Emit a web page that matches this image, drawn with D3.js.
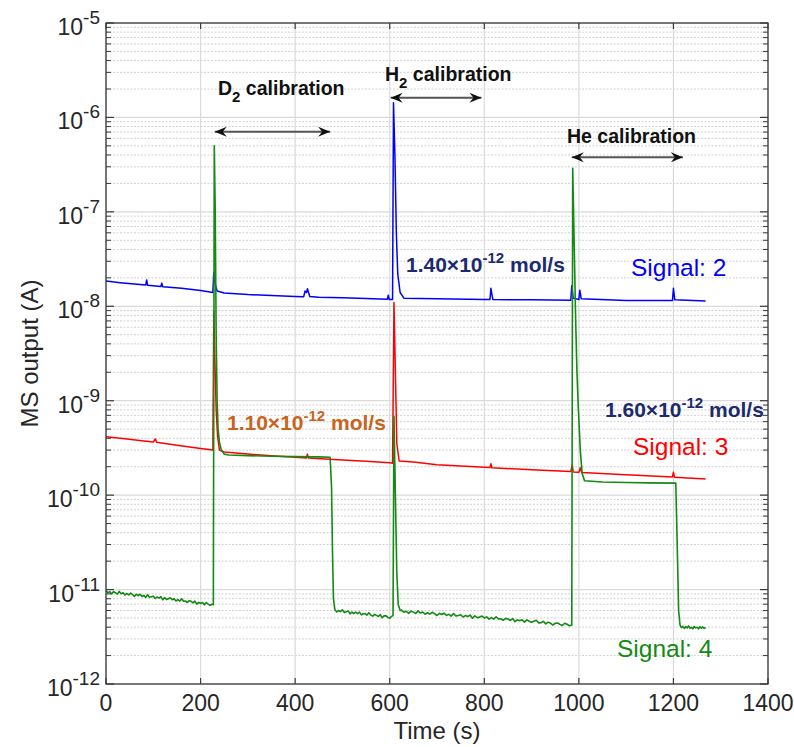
<!DOCTYPE html>
<html>
<head>
<meta charset="utf-8">
<script src="https://cdn.jsdelivr.net/npm/d3@7"></script>
<style>
  body { margin: 0; background: #fff; }
  text { font-family: "Liberation Sans", Arial, Helvetica, sans-serif; }
</style>
</head>
<body>
<svg id="chart" width="794" height="747"></svg>
<script>
/* data (time in s, current in A) */
var xTicks = [0, 200, 400, 600, 800, 1000, 1200, 1400];
var yDecades = [-12, -11, -10, -9, -8, -7, -6, -5];

// Signal 2 (blue), values x1e-8
var sig2 = [[0,1.85],[30,1.78],[60,1.72],[84,1.68],[86,1.90],[88,1.67],[116,1.62],[118,1.76],[120,1.61],
  [160,1.55],[200,1.47],[226,1.40],[228,2.3],[231,1.7],[235,1.45],[250,1.38],[300,1.33],[350,1.30],
  [400,1.27],[418,1.26],[421,1.45],[424,1.40],[426,1.53],[428,1.42],[431,1.27],[450,1.25],[500,1.23],
  [550,1.21],[595,1.19],[597,1.31],[599,1.18],[606,1.18],[608,143],[611,40],[614,6],[617,2.2],[622,1.4],
  [630,1.22],[700,1.20],[800,1.18],[812,1.18],[814,1.55],[816,1.35],[818,1.18],[900,1.17],[983,1.16],
  [985,1.65],[988,1.22],[1000,1.18],[1002,1.48],[1005,1.2],[1100,1.15],[1198,1.15],[1200,1.55],
  [1203,1.17],[1268,1.14]];

// Signal 3 (red), values x1e-10
var sig3 = [[0,4.15],[40,3.95],[80,3.75],[100,3.65],[104,3.95],[107,3.63],[150,3.38],[200,3.12],[226,3.0],
  [228,90],[230,30],[233,8],[236,4.2],[240,3.0],[250,2.86],[300,2.72],[350,2.62],[400,2.52],[424,2.48],
  [426,2.72],[428,2.47],[500,2.36],[550,2.28],[600,2.2],[606,2.18],[609,110],[612,20],[615,3.5],[620,2.3],
  [650,2.25],[700,2.1],[750,2.03],[812,1.96],[814,2.15],[816,1.95],[900,1.86],[983,1.78],[986,2.1],
  [988,1.76],[1000,1.75],[1003,1.95],[1006,1.74],[1100,1.64],[1198,1.56],[1200,1.75],[1202,1.55],[1268,1.48]];

// Signal 4 (green), values x1e-12
var sig4 = [[0,9.79],[4,9.26],[8,9.50],[12,8.99],[16,9.51],[20,9.27],[24,8.95],[28,9.55],[32,9.04],[36,9.27],
  [40,8.77],[44,9.08],[48,8.77],[52,9.17],[56,8.86],[60,8.46],[64,8.94],[68,8.63],[72,8.93],[76,8.46],
  [80,8.67],[84,8.27],[88,8.83],[92,8.27],[96,8.40],[100,8.52],[104,8.05],[108,8.34],[112,8.13],[116,8.42],
  [120,7.80],[124,8.23],[128,7.87],[132,7.98],[136,8.18],[140,7.81],[144,8.00],[148,7.57],[152,7.83],
  [156,7.56],[160,7.97],[164,7.53],[168,7.57],[172,7.29],[176,7.63],[180,7.50],[184,7.23],[188,7.56],
  [192,7.00],[196,7.32],[200,7.13],[204,7.29],[208,6.90],[212,7.27],[216,7.02],[220,6.83],[224,6.99],[227,6.9],
  // D2 peak + plateau
  [229,500000],[231,100000],[233,5000],[235,1000],[237,500],[240,360],[244,300],[250,272],[260,266],
  [300,262],[350,258],[400,256],[450,254],[474,252],[477,120],[479,25],[481,8],
  [484,6.12],[488,5.79],[492,6.00],[496,5.84],[500,6.11],[504,5.73],[508,5.81],[512,5.95],[516,5.52],
  [520,5.78],[524,5.58],[528,5.77],[532,5.57],[536,5.77],[540,5.40],[544,5.54],[548,5.57],[552,5.37],
  [556,5.67],[560,5.37],[564,5.23],[568,5.47],[572,5.33],[576,5.19],[580,5.43],[584,5.03],[588,5.26],
  [592,5.28],[596,5.10],[600,4.97],[604,5.20],
  // H2 peak
  [607,5.3],[609,680],[612,100],[615,15],[618,7],[622,6.0],
  [625,6.06],[630,5.75],[635,5.90],[640,5.59],[645,5.91],[650,5.77],[655,5.58],[660,5.95],[665,5.64],
  [670,5.79],[675,5.48],[680,5.69],[685,5.50],[690,5.75],[695,5.56],[700,5.31],[705,5.62],[710,5.44],
  [715,5.62],[720,5.33],[725,5.47],[730,5.23],[735,5.58],[740,5.24],[745,5.32],[750,5.41],[755,5.12],
  [760,5.30],[765,5.18],[770,5.37],[775,4.97],[780,5.26],[785,5.04],[790,5.11],[795,5.24],[800,5.01],
  [805,5.14],[810,4.87],[815,5.04],[820,4.87],[825,5.15],[830,4.88],[835,4.90],[840,4.73],[845,4.95],
  [850,4.88],[855,4.71],[860,4.93],[865,4.57],[870,4.79],[875,4.67],[880,4.78],[885,4.53],[890,4.78],
  [895,4.62],[900,4.51],[905,4.62],[910,4.73],[915,4.44],[920,4.46],[925,4.61],[930,4.33],[935,4.52],
  [940,4.41],[945,4.21],[950,4.40],[955,4.43],[960,4.28],[965,4.16],[970,4.40],[975,4.29],[980,4.14],[985,4.20],
  // He peak + plateau
  [987,290000],[990,50000],[993,8000],[996,2000],[999,800],[1003,300],[1007,170],[1012,142],
  [1050,138],[1100,136],[1150,135],[1205,134],[1208,30],[1211,6],
  [1214,4.2],[1217,3.95],[1220,4.08],[1223,3.88],[1226,4.05],[1229,3.92],[1232,4.12],[1235,3.90],
  [1238,3.98],[1241,3.85],[1244,4.06],[1247,3.93],[1250,3.99],[1253,3.84],[1256,4.04],[1259,3.90],
  [1262,4.02],[1265,3.88],[1268,3.96]];

// calibration arrows: [t start, t end, level in A]
var arrows = [[230, 474, 7.06e-7], [602, 794, 1.62e-6], [985, 1220, 3.78e-7]];
var calibNames = ["D", "H", "He"];
var calibSubs = ["2", "2", ""];
var calibPos = [[218, 95], [385, 81], [567, 143]];

var rateLabels = ["1.10", "1.40", "1.60"];
var rateColors = ["#c8641e", "#1c2b6e", "#1c2b6e"];
var ratePos = [[227, 430], [406, 272], [605, 417]];

var sigNames = ["Signal: 2", "Signal: 3", "Signal: 4"];
var sigColors = ["#0000ff", "#ff0000", "#138a13"];
var sigPos = [[631, 276], [633, 455], [617, 657]];

/* layout */
var margin = {left: 106, right: 26, top: 23, bottom: 63};
var W = 794, H = 747;

var svg = d3.select('#chart');

var xScale = d3.scaleLinear().domain([0, 1400]).range([margin.left, W - margin.right]);
var yScale = d3.scaleLog().domain([1e-12, 1e-5]).range([H - margin.bottom, margin.top]);

var x0 = xScale(0), x1 = xScale(1400), yb = yScale(1e-12), yt = yScale(1e-5);

// minor values 2..9 x each decade
var minors = [];
yDecades.slice(0, -1).forEach(function(e) {
  for (var k = 2; k <= 9; k++) minors.push(k * Math.pow(10, e));
});

var grid = svg.append('g');
grid.selectAll('.minor').data(minors).enter().append('line')
  .attr('x1', x0).attr('x2', x1)
  .attr('y1', d => yScale(d)).attr('y2', d => yScale(d))
  .attr('stroke', '#c4c4c4').attr('stroke-width', 0.8).attr('stroke-dasharray', '2,1.5');
grid.selectAll('.hmaj').data(yDecades).enter().append('line')
  .attr('x1', x0).attr('x2', x1)
  .attr('y1', d => yScale(Math.pow(10, d))).attr('y2', d => yScale(Math.pow(10, d)))
  .attr('stroke', '#dadada').attr('stroke-width', 1.2);
grid.selectAll('.vmaj').data(xTicks).enter().append('line')
  .attr('x1', d => xScale(d)).attr('x2', d => xScale(d))
  .attr('y1', yt).attr('y2', yb)
  .attr('stroke', '#dadada').attr('stroke-width', 1.2);

/* series */
var line = d3.line().x(d => xScale(d[0])).y(d => yScale(d[1]));
function drawSig(data, unit, color, sw) {
  svg.append('path')
    .datum(data.map(d => [d[0], d[1] * unit]))
    .attr('fill', 'none').attr('stroke', color).attr('stroke-width', sw)
    .attr('stroke-linejoin', 'round')
    .attr('d', line);
}
drawSig(sig2, 1e-8, '#0000ff', 1.5);
drawSig(sig3, 1e-10, '#ff0000', 1.5);
drawSig(sig4, 1e-12, '#138a13', 1.6);

/* axes box + ticks */
var axis = svg.append('g').attr('stroke', '#3a3a3a');
axis.append('rect').attr('x', x0).attr('y', yt).attr('width', x1 - x0).attr('height', yb - yt)
  .attr('fill', 'none').attr('stroke-width', 1.3);
[[x0, 1], [x1, -1]].forEach(function(s) {
  axis.selectAll(null).data(yDecades).enter().append('line')
    .attr('x1', s[0]).attr('x2', s[0] + s[1] * 8)
    .attr('y1', d => yScale(Math.pow(10, d))).attr('y2', d => yScale(Math.pow(10, d)))
    .attr('stroke-width', 1.2);
  axis.selectAll(null).data(minors).enter().append('line')
    .attr('x1', s[0]).attr('x2', s[0] + s[1] * 5)
    .attr('y1', d => yScale(d)).attr('y2', d => yScale(d))
    .attr('stroke-width', 1);
});
[[yb, -1], [yt, 1]].forEach(function(s) {
  axis.selectAll(null).data(xTicks).enter().append('line')
    .attr('x1', d => xScale(d)).attr('x2', d => xScale(d))
    .attr('y1', s[0]).attr('y2', s[0] + s[1] * 6)
    .attr('stroke-width', 1.2);
});

// tick labels
svg.selectAll('.xlab').data(xTicks).enter().append('text')
  .attr('x', d => xScale(d)).attr('y', yb + 27)
  .attr('text-anchor', 'middle').attr('font-size', 23).attr('fill', '#262626')
  .text(d => d);

var ylab = svg.selectAll('.ylab').data(yDecades).enter().append('text')
  .attr('x', x0 - 6).attr('y', d => yScale(Math.pow(10, d)) + 12)
  .attr('text-anchor', 'end').attr('fill', '#262626');
ylab.append('tspan').attr('font-size', 23).text('10');
ylab.append('tspan').attr('font-size', 19).attr('dy', -11).text(d => d);

svg.append('text').attr('x', (x0 + x1) / 2).attr('y', 739)
  .attr('text-anchor', 'middle').attr('font-size', 24).attr('fill', '#262626').text('Time (s)');
svg.append('text').attr('transform', 'translate(38,' + (yt + yb) / 2 + ') rotate(-90)')
  .attr('text-anchor', 'middle').attr('font-size', 24).attr('fill', '#262626').text('MS output (A)');

/* calibration arrows */
var defs = svg.append('defs');
defs.append('marker').attr('id', 'head').attr('viewBox', '-12 -6 14 12')
  .attr('refX', 0).attr('refY', 0).attr('markerWidth', 14).attr('markerHeight', 12)
  .attr('markerUnits', 'userSpaceOnUse').attr('orient', 'auto-start-reverse')
  .append('path').attr('d', 'M0,0 L-12,-5 L-8,0 L-12,5 Z').attr('fill', '#111');

svg.selectAll('.arrow').data(arrows).enter().append('line')
  .attr('x1', d => xScale(d[0])).attr('x2', d => xScale(d[1]))
  .attr('y1', d => yScale(d[2])).attr('y2', d => yScale(d[2]))
  .attr('stroke', '#555').attr('stroke-width', 2)
  .attr('marker-start', 'url(#head)').attr('marker-end', 'url(#head)');

calibNames.forEach(function(n, i) {
  var t = svg.append('text').attr('x', calibPos[i][0]).attr('y', calibPos[i][1])
    .attr('font-size', 19.5).attr('font-weight', 'bold').attr('fill', '#111');
  t.append('tspan').text(n);
  if (calibSubs[i]) t.append('tspan').attr('font-size', 15).attr('dy', 7).text(calibSubs[i]);
  t.append('tspan').attr('dy', calibSubs[i] ? -7 : 0).text(' calibration');
});

/* rate labels */
rateLabels.forEach(function(r, i) {
  var t = svg.append('text').attr('x', ratePos[i][0]).attr('y', ratePos[i][1])
    .attr('font-size', 21).attr('font-weight', 'bold').attr('fill', rateColors[i]);
  t.append('tspan').text(r + '\u00d710');
  t.append('tspan').attr('font-size', 15).attr('dy', -9).text('-12');
  t.append('tspan').attr('dy', 9).text(' mol/s');
});

sigNames.forEach(function(s, i) {
  svg.append('text').attr('x', sigPos[i][0]).attr('y', sigPos[i][1])
    .attr('font-size', 24.5).attr('fill', sigColors[i]).text(s);
});
</script>
</body>
</html>
